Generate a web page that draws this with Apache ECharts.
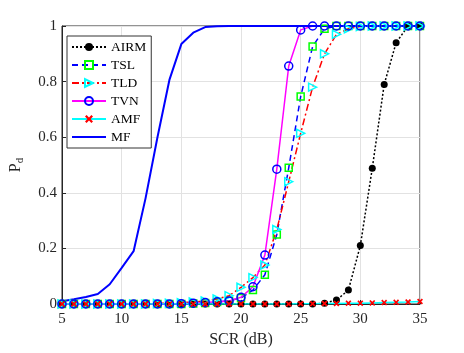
<!DOCTYPE html>
<html>
<head>
<meta charset="utf-8">
<script src="https://cdn.jsdelivr.net/npm/echarts@6/dist/echarts.min.js"></script>
<style>
  html, body { margin: 0; padding: 0; background: #fff; }
  #chart { width: 464px; height: 353px; }
</style>
</head>
<body>
<div id="chart"></div>
<script>
// SCR (dB) 5..35
var scr = [5,6,7,8,9,10,11,12,13,14,15,16,17,18,19,20,21,22,23,24,25,26,27,28,29,30,31,32,33,34,35]

var airm = [0,0,0,0,0,0,0,0,0,0,0,0,0,0,0,0,0,0,0,0,0,0,0.003,0.014,0.05,0.21,0.488,0.79,0.94,1,1]
var tsl  = [0,0,0,0,0,0,0,0,0,0,0,0.002,0.004,0.007,0.012,0.022,0.05,0.105,0.25,0.49,0.746,0.926,0.99,1,1,1,1,1,1,1,1]
var tld  = [0,0,0,0,0,0,0,0,0.002,0.003,0.005,0.007,0.011,0.018,0.03,0.06,0.095,0.14,0.268,0.44,0.614,0.78,0.9,0.97,0.99,0.998,1,1,1,1,1]
var tvn  = [0,0,0,0,0,0,0,0,0,0,0.001,0.003,0.005,0.008,0.011,0.024,0.062,0.176,0.485,0.856,0.986,1,1,1,1,1,1,1,1,1,1]
var amf  = [0,0,0,0,0,0,0,0,0,0,0,0,0,0,0,0,0,0,0,0,0.001,0.001,0.002,0.002,0.003,0.003,0.004,0.005,0.006,0.007,0.009]
var mf   = [0.01,0.017,0.025,0.036,0.071,0.13,0.19,0.38,0.6,0.806,0.935,0.976,0.996,0.999,1,1,1,1,1,1,1,1,1,1,1,1,1,1,1,1,1]

var xTicks = [5,10,15,20,25,30,35]
var yTicks = [0,0.2,0.4,0.6,0.8,1]

function pairs(vals) {
  return scr.map(function (x, i) { return [x, vals[i]] })
}

var font = 'Liberation Serif'
var xMark = 'path://M2,0 L5,3 L8,0 L10,2 L7,5 L10,8 L8,10 L5,7 L2,10 L0,8 L3,5 L0,2 Z'
var lineOnly = 'path://M0,0 L34,0 L34,2 L0,2 Z'

var myChart = echarts.init(document.getElementById('chart'))
var option = {
  animation: false,
  grid: {
    left: 60, right: 44, top: 26, bottom: 49,
    show: true, borderColor: '#262626', borderWidth: 1, backgroundColor: 'transparent'
  },
  legend: {
    orient: 'vertical',
    left: 67, top: 36,
    itemWidth: 34, itemHeight: 10, itemGap: 4,
    padding: [4, 5, 4, 4],
    backgroundColor: '#fff',
    borderColor: '#333', borderWidth: 1,
    textStyle: { fontFamily: font, fontSize: 13.5, color: '#000' },
    data: ['AIRM', 'TSL', 'TLD', 'TVN', 'AMF', { name: 'MF', icon: lineOnly }]
  },
  xAxis: {
    type: 'value', min: 5, max: 35, interval: 5,
    name: 'SCR (dB)', nameLocation: 'middle', nameGap: 27,
    nameTextStyle: { fontFamily: font, fontSize: 16, color: '#262626' },
    axisLine: { lineStyle: { color: '#262626' } },
    axisTick: { inside: true, length: 4, lineStyle: { color: '#262626' } },
    axisLabel: { fontFamily: font, fontSize: 15, color: '#262626', margin: 8,
      customValues: xTicks },
    splitLine: { lineStyle: { color: '#e2e2e2' } }
  },
  yAxis: {
    type: 'value', min: 0, max: 1, interval: 0.2,
    name: '{p|P}{d|d}', nameLocation: 'middle', nameGap: 36,
    nameTextStyle: {
      fontFamily: font, color: '#262626',
      rich: {
        p: { fontFamily: font, fontSize: 16, color: '#262626' },
        d: { fontFamily: font, fontSize: 11, color: '#262626', padding: [9, 0, 0, 0] }
      }
    },
    axisLine: { show: true, lineStyle: { color: '#262626' } },
    axisTick: { show: true, inside: true, length: 4, lineStyle: { color: '#262626' } },
    axisLabel: { fontFamily: font, fontSize: 15, color: '#262626', margin: 5 },
    splitLine: { lineStyle: { color: '#e2e2e2' } }
  },
  series: [
    {
      name: 'AIRM', type: 'line', data: pairs(airm),
      symbol: 'circle', symbolSize: 7, showAllSymbol: true,
      lineStyle: { color: '#000', width: 1.5, type: [2, 2] },
      itemStyle: { color: '#000' }
    },
    {
      name: 'TSL', type: 'line', data: pairs(tsl),
      symbol: 'rect', symbolSize: 7, showAllSymbol: true,
      lineStyle: { color: '#0000ff', width: 1.5, type: [6, 4] },
      itemStyle: { color: 'rgba(255,255,255,0)', borderColor: '#00ff00', borderWidth: 1.5 }
    },
    {
      name: 'TLD', type: 'line', data: pairs(tld),
      symbol: 'triangle', symbolRotate: -90, symbolSize: 8, showAllSymbol: true,
      lineStyle: { color: '#ff0000', width: 1.5, type: [7, 3, 2, 3] },
      itemStyle: { color: 'rgba(255,255,255,0)', borderColor: '#00ffff', borderWidth: 1.5 }
    },
    {
      name: 'TVN', type: 'line', data: pairs(tvn),
      symbol: 'circle', symbolSize: 8, showAllSymbol: true,
      lineStyle: { color: '#ff00ff', width: 1.5 },
      itemStyle: { color: 'rgba(255,255,255,0)', borderColor: '#0000ff', borderWidth: 1.5 }
    },
    {
      name: 'AMF', type: 'line', data: pairs(amf),
      symbol: xMark, symbolSize: 6, showAllSymbol: true,
      lineStyle: { color: '#00ffff', width: 1.5 },
      itemStyle: { color: '#ff0000' }
    },
    {
      name: 'MF', type: 'line', data: pairs(mf),
      symbol: 'none',
      lineStyle: { color: '#0000ff', width: 2 },
      itemStyle: { color: '#0000ff' }
    }
  ]
}
myChart.setOption(option)
</script>
</body>
</html>
